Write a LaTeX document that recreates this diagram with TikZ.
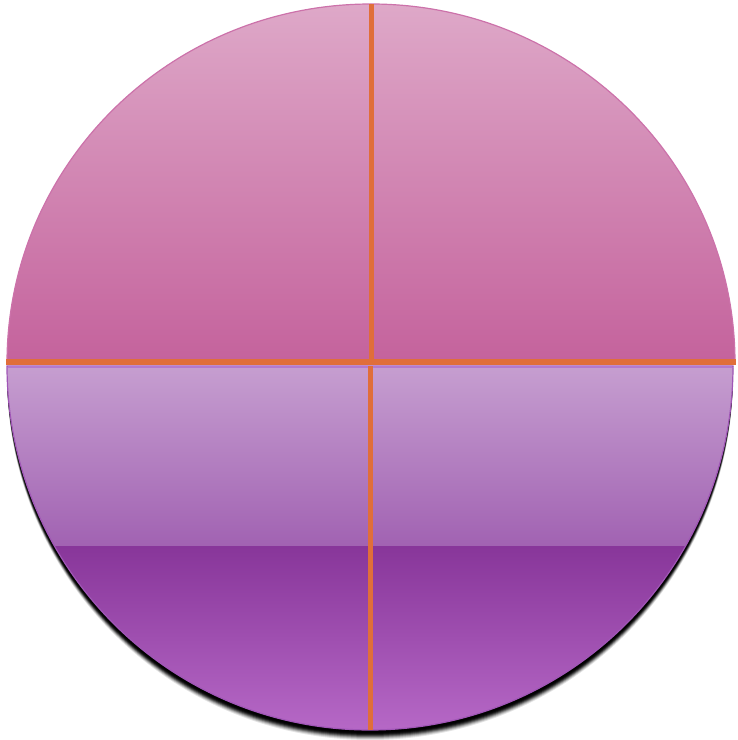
\documentclass[tikz,border=0pt]{standalone}
\usepackage{tikz}
\usetikzlibrary{calc}
\definecolor{pinktop}{HTML}{DEA8C8}
\definecolor{pinkbot}{HTML}{C4629C}
\definecolor{pinkedge}{HTML}{CC72AA}
\definecolor{lavtop}{HTML}{C69ED0}
\definecolor{lavbot}{HTML}{A162B2}
\definecolor{lavedge}{HTML}{B47ACC}
\definecolor{plumtop}{HTML}{88369A}
\definecolor{plumbot}{HTML}{B668C6}
\definecolor{plumedge}{HTML}{A056B6}
\definecolor{divider}{HTML}{E06E3A}

\begin{document}
\begin{tikzpicture}[x=1pt,y=1pt,
    divline/.style={draw=divider, line width=5pt},
    tophalf/.style={top color=pinktop, bottom color=pinkbot, draw=pinkedge, line width=1.2pt},
    upperband/.style={top color=lavtop, bottom color=lavbot},
    lowerband/.style={top color=plumtop, bottom color=plumbot}]
                \useasboundingbox (0,0) rectangle (738,740);
                % soft shadow under the lower half
                \foreach \d/\o in {10/0.1,9/0.15,8/0.2,7/0.3,6/0.4,5/0.55,4/0.7,3/0.85,2/1}
                    \fill[black, opacity=\o] (733,374-\d) arc[start angle=0, end angle=-180, x radius=363, y radius=364] -- cycle;
                % upper half
                \path[tophalf] (7,377) arc[start angle=180, end angle=0, x radius=364, y radius=359] -- cycle;
                % lower half, two bands
                \begin{scope}
                    \clip (733,374) arc[start angle=0, end angle=-180, x radius=363, y radius=364] -- cycle;
                    \fill[upperband] (0,193) rectangle (738,374);
                    \fill[lowerband] (0,10) rectangle (738,193);
                \end{scope}
                \draw[plumedge, line width=1.2pt] (733,374) arc[start angle=0, end angle=-180, x radius=363, y radius=364] -- cycle;
                \draw[lavedge, line width=1.5pt] (8,373) -- (732,373);
                % dividers
                \coordinate (top) at (371,736);
                \coordinate (bot) at (370,10);
                \coordinate (mid) at (371,377);
                \coordinate (left) at (6,378);
                \coordinate (right) at (736,378);
                \draw[divline] (top) -- (mid);
                \draw[divline] (370,374) -- (bot);
                \draw[divline, line width=6pt] (left) -- (right);
            \end{tikzpicture}
\end{document}
